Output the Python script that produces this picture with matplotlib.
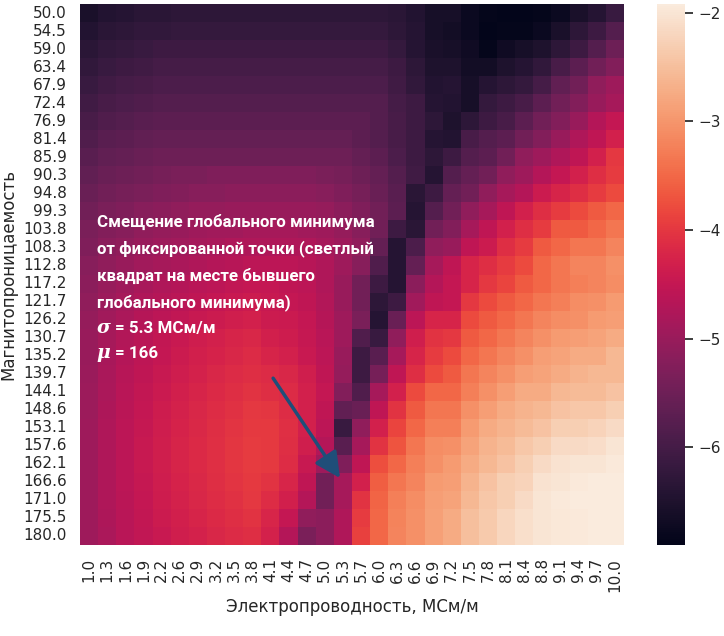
import numpy as np
import pandas as pd
import matplotlib
matplotlib.use("Agg")
import matplotlib.pyplot as plt
from matplotlib import font_manager as fm
import seaborn as sns

# ── axis labels (conductivity, MS/m  and  permeability) ─────────
sigma_labels = ["1.0", "1.3", "1.6", "1.9", "2.2", "2.6", "2.9", "3.2", "3.5", "3.8",
                "4.1", "4.4", "4.7", "5.0", "5.3", "5.7", "6.0", "6.3", "6.6", "6.9",
                "7.2", "7.5", "7.8", "8.1", "8.4", "8.8", "9.1", "9.4", "9.7", "10.0"]
mu_labels = ["50.0", "54.5", "59.0", "63.4", "67.9", "72.4", "76.9", "81.4", "85.9", "90.3",
             "94.8", "99.3", "103.8", "108.3", "112.8", "117.2", "121.7", "126.2", "130.7", "135.2",
             "139.7", "144.1", "148.6", "153.1", "157.6", "162.1", "166.6", "171.0", "175.5", "180.0"]

# ── log10 misfit, rows = mu, cols = sigma ──
log_misfit = [
    [-6.55, -6.45, -6.40, -6.35, -6.35, -6.30, -6.30, -6.30, -6.30, -6.30, -6.30, -6.30, -6.30, -6.30, -6.30, -6.30, -6.30, -6.35, -6.45, -6.60, -6.60, -6.75, -6.85, -6.90, -6.90, -6.85, -6.75, -6.55, -6.40, -6.15],
    [-6.45, -6.35, -6.30, -6.25, -6.25, -6.20, -6.20, -6.20, -6.20, -6.20, -6.20, -6.20, -6.20, -6.20, -6.20, -6.20, -6.20, -6.30, -6.40, -6.60, -6.65, -6.75, -6.90, -6.85, -6.85, -6.75, -6.55, -6.30, -6.10, -5.80],
    [-6.35, -6.25, -6.20, -6.15, -6.10, -6.10, -6.10, -6.10, -6.10, -6.10, -6.10, -6.10, -6.10, -6.10, -6.10, -6.10, -6.10, -6.20, -6.40, -6.55, -6.60, -6.70, -6.85, -6.70, -6.60, -6.50, -6.30, -6.10, -5.80, -5.50],
    [-6.25, -6.15, -6.10, -6.05, -6.00, -6.00, -6.00, -6.00, -6.00, -6.00, -6.00, -6.00, -6.00, -6.00, -6.00, -6.00, -6.00, -6.10, -6.30, -6.50, -6.50, -6.65, -6.65, -6.50, -6.40, -6.25, -5.95, -5.70, -5.45, -5.25],
    [-6.15, -6.05, -6.00, -5.95, -5.90, -5.90, -5.90, -5.90, -5.90, -5.90, -5.90, -5.90, -5.90, -5.90, -5.90, -5.90, -5.90, -6.05, -6.25, -6.45, -6.40, -6.60, -6.40, -6.30, -6.20, -6.00, -5.65, -5.45, -5.10, -4.95],
    [-6.05, -5.95, -5.90, -5.85, -5.80, -5.80, -5.80, -5.80, -5.80, -5.80, -5.80, -5.80, -5.80, -5.80, -5.80, -5.80, -5.80, -6.00, -6.10, -6.40, -6.45, -6.60, -6.20, -6.10, -5.95, -5.70, -5.45, -5.25, -5.00, -4.85],
    [-5.95, -5.85, -5.80, -5.75, -5.70, -5.70, -5.70, -5.70, -5.70, -5.70, -5.70, -5.70, -5.70, -5.70, -5.70, -5.70, -5.80, -5.95, -6.10, -6.30, -6.50, -6.30, -6.10, -5.95, -5.70, -5.45, -5.25, -5.00, -4.70, -4.50],
    [-5.85, -5.75, -5.70, -5.65, -5.60, -5.60, -5.60, -5.60, -5.60, -5.60, -5.60, -5.60, -5.60, -5.60, -5.60, -5.70, -5.80, -5.95, -6.10, -6.40, -6.45, -5.95, -5.80, -5.70, -5.45, -5.25, -5.00, -4.75, -4.55, -4.30],
    [-5.75, -5.65, -5.60, -5.55, -5.50, -5.50, -5.50, -5.50, -5.50, -5.50, -5.50, -5.50, -5.50, -5.50, -5.50, -5.60, -5.70, -5.90, -6.10, -6.30, -6.10, -5.80, -5.70, -5.45, -5.10, -4.95, -4.75, -4.55, -4.30, -4.00],
    [-5.65, -5.55, -5.50, -5.45, -5.40, -5.35, -5.35, -5.30, -5.30, -5.30, -5.30, -5.30, -5.30, -5.35, -5.40, -5.50, -5.60, -5.80, -6.05, -6.40, -5.80, -5.60, -5.45, -5.10, -4.95, -4.70, -4.50, -4.30, -4.10, -3.95],
    [-5.55, -5.45, -5.40, -5.35, -5.30, -5.25, -5.20, -5.20, -5.15, -5.15, -5.15, -5.15, -5.15, -5.20, -5.30, -5.40, -5.55, -5.75, -6.35, -6.10, -5.60, -5.45, -5.10, -4.85, -4.70, -4.40, -4.25, -4.10, -3.95, -3.80],
    [-5.45, -5.35, -5.30, -5.20, -5.15, -5.10, -5.05, -5.05, -5.00, -5.00, -5.00, -5.00, -5.00, -5.05, -5.15, -5.30, -5.45, -5.70, -6.40, -5.80, -5.45, -5.10, -4.85, -4.55, -4.30, -4.10, -3.95, -3.80, -3.65, -3.50],
    [-5.35, -5.25, -5.20, -5.10, -5.05, -5.00, -4.95, -4.90, -4.90, -4.85, -4.85, -4.85, -4.90, -4.95, -5.05, -5.20, -5.45, -6.10, -6.35, -5.45, -5.25, -4.85, -4.55, -4.30, -4.10, -3.95, -3.65, -3.65, -3.50, -3.35],
    [-5.30, -5.15, -5.10, -5.00, -4.95, -4.90, -4.85, -4.80, -4.75, -4.75, -4.75, -4.75, -4.75, -4.85, -4.95, -5.10, -5.60, -6.40, -5.90, -5.10, -5.00, -4.55, -4.40, -4.10, -3.95, -3.65, -3.50, -3.35, -3.35, -3.20],
    [-5.20, -5.10, -5.00, -4.90, -4.85, -4.80, -4.75, -4.70, -4.65, -4.60, -4.60, -4.60, -4.65, -4.75, -4.95, -5.20, -5.85, -6.40, -5.60, -4.85, -4.55, -4.25, -4.10, -3.95, -3.80, -3.50, -3.35, -3.20, -3.20, -3.05],
    [-5.15, -5.02, -4.92, -4.83, -4.76, -4.70, -4.64, -4.59, -4.54, -4.50, -4.50, -4.55, -4.60, -4.75, -5.00, -5.45, -6.10, -6.40, -5.15, -4.70, -4.50, -4.25, -4.00, -3.85, -3.65, -3.50, -3.35, -3.25, -3.20, -3.10],
    [-5.10, -4.96, -4.85, -4.76, -4.68, -4.61, -4.55, -4.49, -4.44, -4.40, -4.45, -4.50, -4.55, -4.72, -5.00, -5.45, -6.30, -6.10, -4.90, -4.55, -4.50, -4.00, -3.80, -3.65, -3.50, -3.35, -3.25, -3.10, -3.05, -2.95],
    [-5.05, -4.90, -4.78, -4.68, -4.60, -4.53, -4.46, -4.40, -4.35, -4.30, -4.40, -4.42, -4.50, -4.68, -4.95, -5.35, -6.40, -5.55, -4.60, -4.25, -4.25, -3.80, -3.65, -3.50, -3.35, -3.20, -3.10, -3.05, -2.95, -2.90],
    [-5.00, -4.84, -4.71, -4.61, -4.52, -4.44, -4.37, -4.30, -4.25, -4.20, -4.33, -4.38, -4.48, -4.64, -4.95, -5.85, -6.15, -5.10, -4.35, -4.05, -4.00, -3.65, -3.50, -3.35, -3.20, -3.05, -2.95, -2.90, -2.85, -2.75],
    [-5.00, -4.83, -4.69, -4.58, -4.49, -4.40, -4.33, -4.26, -4.20, -4.15, -4.25, -4.30, -4.44, -4.60, -5.00, -6.10, -5.75, -4.85, -4.25, -3.95, -3.80, -3.50, -3.35, -3.20, -3.05, -2.90, -2.85, -2.75, -2.75, -2.60],
    [-4.98, -4.80, -4.66, -4.55, -4.45, -4.36, -4.28, -4.21, -4.15, -4.10, -4.15, -4.20, -4.35, -4.55, -5.05, -6.10, -5.40, -4.55, -4.10, -3.80, -3.65, -3.35, -3.20, -3.05, -2.90, -2.85, -2.75, -2.65, -2.60, -2.60],
    [-4.97, -4.79, -4.64, -4.52, -4.42, -4.33, -4.24, -4.17, -4.11, -4.05, -4.10, -4.15, -4.30, -4.50, -5.25, -5.85, -4.85, -4.30, -3.80, -3.50, -3.50, -3.25, -3.05, -2.90, -2.75, -2.75, -2.60, -2.55, -2.55, -2.45],
    [-4.96, -4.77, -4.61, -4.49, -4.38, -4.29, -4.20, -4.12, -4.06, -4.00, -4.02, -4.12, -4.30, -4.55, -5.65, -5.55, -4.55, -4.05, -3.65, -3.35, -3.35, -3.05, -2.90, -2.75, -2.65, -2.60, -2.45, -2.40, -2.40, -2.30],
    [-4.95, -4.75, -4.60, -4.47, -4.36, -4.26, -4.18, -4.10, -4.03, -3.97, -3.98, -4.08, -4.30, -4.60, -6.15, -5.10, -4.30, -3.85, -3.50, -3.25, -3.25, -2.95, -2.75, -2.65, -2.55, -2.45, -2.30, -2.30, -2.25, -2.15],
    [-4.95, -4.75, -4.59, -4.46, -4.35, -4.25, -4.16, -4.08, -4.01, -3.95, -3.97, -4.10, -4.35, -4.70, -5.75, -4.85, -4.05, -3.70, -3.35, -3.10, -3.05, -2.85, -2.65, -2.55, -2.40, -2.30, -2.15, -2.15, -2.10, -2.00],
    [-4.95, -4.75, -4.59, -4.46, -4.35, -4.25, -4.16, -4.08, -4.01, -3.95, -3.98, -4.12, -4.45, -4.95, -5.30, -4.55, -3.75, -3.50, -3.25, -3.05, -2.95, -2.75, -2.60, -2.45, -2.30, -2.15, -2.05, -2.00, -2.00, -1.95],
    [-4.95, -4.75, -4.60, -4.47, -4.36, -4.26, -4.18, -4.10, -4.03, -3.97, -4.05, -4.22, -4.55, -5.45, -4.85, -4.30, -3.60, -3.35, -3.20, -2.95, -2.90, -2.65, -2.45, -2.30, -2.25, -2.05, -2.00, -1.95, -1.93, -1.93],
    [-4.95, -4.76, -4.61, -4.49, -4.38, -4.29, -4.20, -4.12, -4.06, -4.00, -4.12, -4.33, -4.70, -5.45, -4.85, -4.05, -3.55, -3.25, -3.10, -2.90, -2.85, -2.60, -2.40, -2.30, -2.15, -2.00, -1.95, -1.93, -1.92, -1.92],
    [-4.95, -4.77, -4.63, -4.51, -4.41, -4.32, -4.24, -4.17, -4.10, -4.05, -4.22, -4.50, -5.10, -5.15, -4.75, -3.95, -3.50, -3.22, -3.05, -2.88, -2.75, -2.50, -2.35, -2.20, -2.08, -2.00, -1.97, -1.94, -1.93, -1.92],
    [-4.95, -4.78, -4.64, -4.53, -4.44, -4.35, -4.28, -4.21, -4.15, -4.10, -4.28, -4.70, -5.35, -5.15, -4.75, -3.90, -3.50, -3.20, -3.05, -2.88, -2.75, -2.50, -2.35, -2.20, -2.08, -2.00, -1.97, -1.94, -1.93, -1.92],
]

note_lines = ["Смещение глобального минимума",
              "от фиксированной точки (светлый",
              "квадрат на месте бывшего",
              "глобального минимума)"]


def bold_family(candidates):
    # first family that really has a bold face installed
    for name in candidates:
        for f in fm.fontManager.ttflist:
            if f.name == name and f.style == "normal" and \
                    (f.weight in ("bold", "semibold", "demibold") or
                     (isinstance(f.weight, int) and f.weight >= 600)):
                return name
    return "DejaVu Sans"


sns.set_theme()
plt.rcParams["font.family"] = ["DejaVu Sans"]

fig = plt.figure(figsize=(7.24, 6.36), dpi=100)
ax = fig.add_axes([80 / 724, 91 / 636, 544 / 724, 541 / 636])
cax = fig.add_axes([657 / 724, 91 / 636, 28 / 724, 541 / 636])

df = pd.DataFrame(log_misfit, index=mu_labels, columns=sigma_labels)
sns.heatmap(df, ax=ax, cbar_ax=cax, xticklabels=sigma_labels, yticklabels=mu_labels)
ax.set_yticklabels(mu_labels, rotation=0)
ax.set_xticklabels(sigma_labels, rotation=90)
ax.set_xlabel("Электропроводность, МСм/м")
ax.set_ylabel("Магнитопроницаемость")

# annotation text (data coords of the heatmap: col / row)
fam = bold_family(["Roboto", "Noto Sans", "Open Sans", "Liberation Sans"])
note_font = dict(color="white", fontsize=12.2, fontweight="bold",
                 family=[fam, "DejaVu Sans"], va="baseline", ha="left")
for k, line in enumerate(note_lines):
    ax.text(0.93, 12.37 + 1.48 * k, line, **note_font)
greek_font = dict(color="white", fontsize=13.5, fontweight="bold", fontstyle="italic",
                  family=["DejaVu Serif"], va="baseline", ha="left")
ax.text(0.93, 18.25, "σ", **greek_font)
ax.text(1.95, 18.25, "= 5.3 МСм/м", **note_font)
ax.text(0.93, 19.63, "μ", **greek_font)
ax.text(1.95, 19.63, "= 166", **note_font)

ax.annotate("", xy=(14.34, 26.29), xytext=(10.65, 20.75),
            arrowprops=dict(arrowstyle="-|>,head_length=0.7,head_width=0.35",
                            color="#1f4e79", lw=2.5, mutation_scale=22,
                            shrinkA=0, shrinkB=0))

fig.savefig("out.png", dpi=100)
